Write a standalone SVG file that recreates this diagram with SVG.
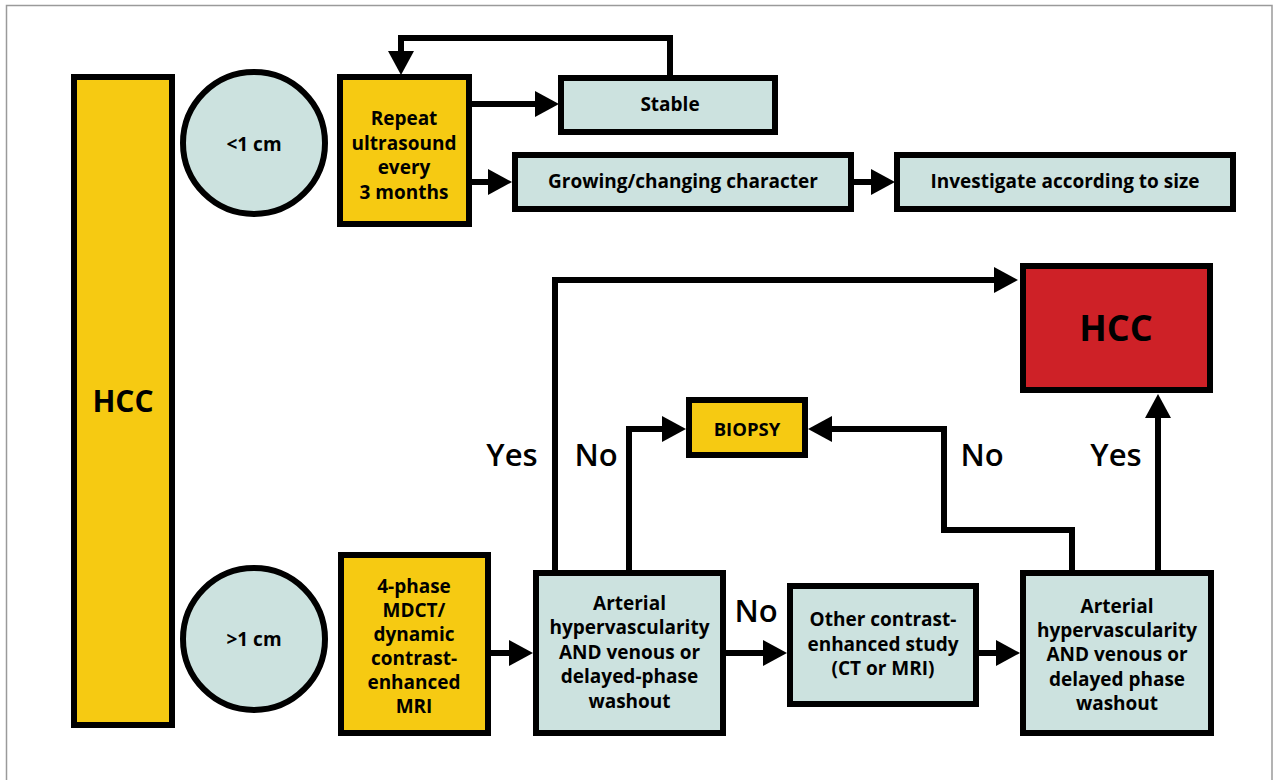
<svg xmlns="http://www.w3.org/2000/svg" width="1277" height="780" viewBox="0 0 1277 780">
<defs>
<marker id="ah" markerUnits="userSpaceOnUse" viewBox="0 0 24 26" markerWidth="24" markerHeight="26" refX="0" refY="13" orient="auto">
<path d="M0,0 L24,13 L0,26 Z" fill="#000"/>
</marker>
</defs>
<style>
.frame{fill:#fff;stroke:#9a9a9a;stroke-width:1.5}
.y{fill:#F6CA12;stroke:#000;stroke-width:6}
.b{fill:#CCE2DF;stroke:#000;stroke-width:6}
.r{fill:#CE2127;stroke:#000;stroke-width:6}
.c{fill:none;stroke:#000;stroke-width:6;stroke-linejoin:miter;marker-end:url(#ah)}
text{font-family:"Open Sans","Noto Sans","Liberation Sans",sans-serif;font-weight:700;font-size:19px;fill:#000;text-anchor:middle}
.big{font-size:30px;font-weight:700}
.huge{font-size:36px;font-weight:700}
.lbl{font-size:31px;font-weight:600}
.bio{font-size:18.5px}
</style>
<rect class="frame" x="6.5" y="5.5" width="1265.5" height="790"/>
<g id="connectors">
<path class="c" d="M670,76 V38 H401 V51"/>
<path class="c" d="M472,104 H535"/>
<path class="c" d="M472,182 H488"/>
<path class="c" d="M854,182 H871"/>
<path class="c" d="M491,653 H509"/>
<path class="c" d="M726,653 H763"/>
<path class="c" d="M979,653 H996"/>
<path class="c" d="M555,571 V280 H994"/>
<path class="c" d="M629,571 V429 H662"/>
<path class="c" d="M1072,571 V530 H944 V429 H832"/>
<path class="c" d="M1158,571 V418"/>
<text class="lbl" x="512" y="466">Yes</text>
<text class="lbl" x="596" y="466">No</text>
<text class="lbl" x="982" y="466">No</text>
<text class="lbl" x="1116" y="466">Yes</text>
<text class="lbl" x="756" y="622">No</text>
</g>
<g id="hcc-left">
<rect class="y" x="74" y="77" width="98" height="648"/>
<text class="big" x="123" y="412">HCC</text>
</g>
<g id="small">
<circle class="b" cx="254" cy="143" r="71"/>
<text x="254" y="151">&lt;1 cm</text>
</g>
<g id="repeat">
<rect class="y" x="340" y="77" width="129" height="147"/>
<text x="404" y="125">Repeat</text>
<text x="404" y="150">ultrasound</text>
<text x="404" y="174">every</text>
<text x="404" y="199">3 months</text>
</g>
<g id="stable">
<rect class="b" x="561" y="78" width="214" height="54"/>
<text x="670" y="111">Stable</text>
</g>
<g id="growing">
<rect class="b" x="515" y="155" width="336" height="54"/>
<text x="683" y="188">Growing/changing character</text>
</g>
<g id="investigate">
<rect class="b" x="897" y="155" width="336" height="54"/>
<text x="1065" y="188">Investigate according to size</text>
</g>
<g id="hcc-red">
<rect class="r" x="1023" y="266" width="187" height="124"/>
<text class="huge" x="1116" y="341">HCC</text>
</g>
<g id="biopsy">
<rect class="y" x="689" y="400" width="116" height="55"/>
<text class="bio" x="747" y="436">BIOPSY</text>
</g>
<g id="large">
<circle class="b" cx="254" cy="639" r="71"/>
<text x="254" y="646">&gt;1 cm</text>
</g>
<g id="mdct">
<rect class="y" x="341" y="555" width="147" height="178"/>
<text x="414" y="593">4-phase</text>
<text x="414" y="617">MDCT/</text>
<text x="414" y="641">dynamic</text>
<text x="414" y="665">contrast-</text>
<text x="414" y="689">enhanced</text>
<text x="414" y="713">MRI</text>
</g>
<g id="arterial1">
<rect class="b" x="536" y="573" width="187" height="160"/>
<text x="629.5" y="610">Arterial</text>
<text x="629.5" y="634">hypervascularity</text>
<text x="629.5" y="659">AND venous or</text>
<text x="629.5" y="683">delayed-phase</text>
<text x="629.5" y="708">washout</text>
</g>
<g id="other">
<rect class="b" x="790" y="586" width="186" height="118"/>
<text x="883" y="626">Other contrast-</text>
<text x="883" y="651">enhanced study</text>
<text x="883" y="675">(CT or MRI)</text>
</g>
<g id="arterial2">
<rect class="b" x="1023" y="573" width="188" height="160"/>
<text x="1117" y="613">Arterial</text>
<text x="1117" y="637">hypervascularity</text>
<text x="1117" y="661">AND venous or</text>
<text x="1117" y="686">delayed phase</text>
<text x="1117" y="710">washout</text>
</g>
</svg>
